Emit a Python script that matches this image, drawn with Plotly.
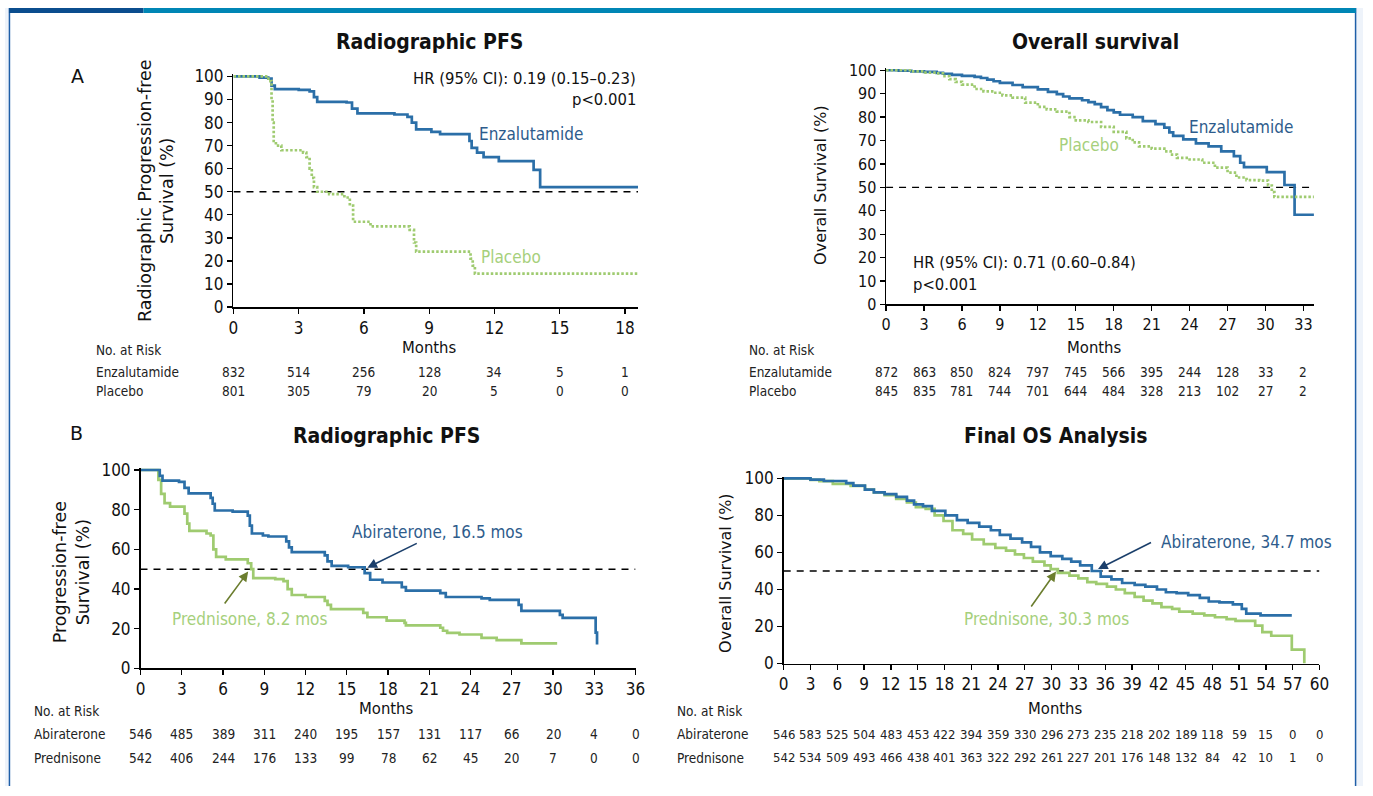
import plotly.graph_objects as go

W, H = 1373, 796

# ---------------- DATA ----------------
# Panel A1: Radiographic PFS (Enzalutamide vs Placebo)
a1_enz_t = [0, 1.2, 1.6, 1.75, 1.9, 3.0, 3.5, 3.7, 3.85, 5.2, 5.45, 5.7, 7.4, 8.0, 8.2, 8.4, 9.1, 9.5,
            10.85, 10.95, 11.2, 11.5, 12.2, 13.8, 14.1, 18.6]
a1_enz_s = [100, 99.5, 99, 96, 94.5, 94.2, 93.5, 91, 89, 88.7, 86, 84, 83.5, 82.5, 80, 77, 76, 75,
            72, 69, 67, 65, 63.3, 59.5, 52, 52]
a1_pla_t = [0, 1.5, 1.7, 1.75, 1.8, 1.85, 1.95, 2.2, 3.2, 3.35, 3.5, 3.6, 3.7, 3.85, 4.4, 5.1, 5.35, 5.5,
            6.3, 8.1, 8.3, 8.4, 10.9, 11.0, 11.1, 18.6]
a1_pla_s = [100, 99, 98, 90, 80, 72, 70, 68, 67, 65, 60, 56, 52, 50, 49, 47.5, 44, 37,
            35, 33.5, 28, 24, 21, 18, 14.5, 14.5]
a1_ticks = [0, 3, 6, 9, 12, 15, 18]
a1_risk_enz = [832, 514, 256, 128, 34, 5, 1]
a1_risk_pla = [801, 305, 79, 20, 5, 0, 0]

# Panel A2: Overall survival (Enzalutamide vs Placebo)
a2_enz_t = [0, 1, 2, 3, 4, 4.5, 5.2, 6, 7, 7.5, 8, 8.5, 9, 10, 10.8, 12, 12.8, 13.5, 14, 14.5, 15.5, 16,
            16.5, 17, 17.5, 18, 18.5, 19.5, 20.3, 21.3, 22, 22.4, 22.7, 23.5, 24.5, 25.5, 26.5, 27.5,
            28, 28.3, 30.1, 31.5, 32.3, 33.83]
a2_enz_s = [100, 99.8, 99.5, 99.3, 98.9, 98.5, 98, 97.6, 97.2, 96.7, 96, 95.3, 94.6, 93.7, 92.8, 91.8,
            90.8, 89.8, 88.8, 88, 87.2, 86.4, 85.5, 84.3, 83, 82, 81, 80, 78.3, 77, 75.5, 73.5, 72,
            70.5, 68.8, 67.5, 65.4, 63.3, 60.5, 58.6, 56.5, 51, 38.3, 38.3]
a2_pla_t = [0, 2, 3, 4, 4.5, 5, 5.5, 6, 7, 7.7, 8.5, 9.2, 10, 11, 12, 12.7, 13.5, 14.5, 15, 16, 17, 18,
            19, 19.5, 20, 21, 22, 22.5, 23, 24, 25, 26, 27, 27.7, 28.5, 29.5, 30.2, 30.5, 30.7, 33.83]
a2_pla_s = [100, 99.5, 99, 98.7, 97.5, 96.2, 95, 93.9, 92, 91, 90.4, 89.3, 88.3, 86.2, 84.4, 83.3, 82.3,
            80, 78.6, 77.9, 75.8, 73.7, 70.9, 69.2, 67.5, 66.5, 65.4, 64, 62.6, 61.9, 60.5, 58.4, 56.3,
            54.2, 53.1, 52.9, 50.8, 48, 45.9, 45.9]
a2_ticks = [0, 3, 6, 9, 12, 15, 18, 21, 24, 27, 30, 33]
a2_risk_enz = [872, 863, 850, 824, 797, 745, 566, 395, 244, 128, 33, 2]
a2_risk_pla = [845, 835, 781, 744, 701, 644, 484, 328, 213, 102, 27, 2]

# Panel B1: Radiographic PFS (Abiraterone vs Prednisone)
b1_abi_t = [0, 1.4, 1.6, 2.8, 3.2, 3.5, 5.1, 5.25, 5.4, 6.7, 7.8, 7.95, 8.1, 8.9, 9.3, 10.6, 10.8, 11.0,
            13.4, 13.6, 13.9, 15.1, 16.3, 16.7, 17.6, 19.0, 19.3, 21.8, 22.2, 24.8, 25.4, 27.5, 27.7,
            30.5, 30.7, 33.1, 33.2]
b1_abi_s = [100, 97, 94.7, 94, 91, 88.2, 86, 83, 79.6, 79, 77, 72, 68, 67, 66.5, 64, 61, 58.6,
            57, 54, 51.7, 51, 48, 44.7, 43.3, 41, 39.2, 38, 36, 35.3, 34.5, 32, 29,
            27, 25.5, 18, 12]
b1_pre_t = [0, 1.3, 1.5, 1.75, 2.15, 3.2, 3.4, 3.55, 4.8, 5.1, 5.3, 5.5, 6.2, 7.8, 8.05, 8.2, 9.8, 10.4,
            10.7, 11.0, 12.0, 13.4, 13.6, 13.85, 16.2, 16.5, 17.9, 19.2, 19.3, 21.8, 22.0, 22.3, 23.2,
            24.8, 25.9, 27.7, 30.3]
b1_pre_s = [100, 95, 88, 83.3, 81.5, 78, 73, 69.3, 68, 67, 60, 56.2, 55, 53, 50, 45.5, 45, 44,
            40, 37, 36, 34, 32, 29.9, 28, 25.8, 24.1, 23, 21.7, 20.5, 19, 17.9, 17.1,
            15.4, 14.3, 12.6, 12.6]
b1_ticks = [0, 3, 6, 9, 12, 15, 18, 21, 24, 27, 30, 33, 36]
b1_risk_abi = [546, 485, 389, 311, 240, 195, 157, 131, 117, 66, 20, 4, 0]
b1_risk_pre = [542, 406, 244, 176, 133, 99, 78, 62, 45, 20, 7, 0, 0]

# Panel B2: Final OS analysis (Abiraterone vs Prednisone)
b2_abi_t = [0, 3, 4.5, 7.0, 7.8, 9.1, 10.1, 11.3, 12.6, 13.8, 14.6, 15.6, 16.6, 18.1, 19.4, 20.6, 21.9,
            23.2, 24.2, 25.4, 26.7, 27.7, 28.7, 29.9, 31.2, 32.2, 33.2, 34.5, 35.5, 36.7, 37.9, 39.3,
            40.5, 41.8, 42.8, 44.0, 45.3, 46.6, 47.6, 48.8, 50.3, 51.3, 51.8, 53.4, 56.9]
b2_abi_s = [100, 99.3, 98.6, 97.5, 96.1, 94, 92.5, 91.5, 90, 88, 86, 85, 82.5, 80, 77.5, 76, 74,
            72, 69.5, 67.5, 65.5, 63, 60, 58, 56.5, 55, 53, 50, 47, 45.5, 43.5, 42.5,
            41.5, 40, 38.5, 38, 37, 35.5, 33.5, 33, 32, 29.5, 27, 26, 26]
b2_pre_t = [0, 3, 4.0, 5.5, 7.5, 9.1, 10.1, 11.3, 12.6, 13.8, 14.8, 15.9, 16.9, 17.9, 18.9, 20.1, 21.1,
            22.4, 23.7, 24.9, 25.9, 26.9, 27.9, 29.2, 29.9, 30.7, 32.0, 33.0, 34.0, 35.0, 36.2, 37.2,
            38.2, 39.3, 40.3, 41.3, 42.3, 43.5, 44.3, 45.8, 47.1, 48.3, 49.6, 50.6, 52.8, 53.6, 54.6,
            56.9, 58.3]
b2_pre_s = [100, 99.2, 98.5, 97, 96, 94, 92.5, 91, 89, 87, 84.5, 83.5, 80, 77, 72, 70, 67,
            64.5, 62.5, 61, 59, 57, 55, 53, 51, 49, 47.5, 46, 44, 43, 41.5, 40,
            38, 36, 34, 32.5, 30.5, 29.5, 28, 27, 26, 25, 24, 23, 20.5, 17, 15,
            7.5, 0]
b2_ticks = list(range(0, 61, 3))
b2_risk_abi = [546, 583, 525, 504, 483, 453, 422, 394, 359, 330, 296, 273, 235, 218, 202, 189, 118, 59, 15, 0, 0]
b2_risk_pre = [542, 534, 509, 493, 466, 438, 401, 363, 322, 292, 261, 227, 201, 176, 148, 132, 84, 42, 10, 1, 0]

# ---------------- STYLE ----------------
BLUE = "#2b6fa8"
GREEN = "#9fcb70"
BLUE_TXT = "#2e5c8c"
GREEN_TXT = "#a6d07c"
NAVY = "#1b3f6b"
OLIVE = "#6b7d2e"
COND = "'DejaVu Sans Condensed', 'Roboto', sans-serif"
WIDE = "'DejaVu Sans', 'Open Sans', sans-serif"
BOLD = "'DejaVu Sans Condensed', 'Roboto', sans-serif"


def px(x):
    return x / W


def py(y):
    return 1 - y / H


# panel geometry in pixels
panels = {
    "a1": dict(x0=231, x1=640, xmax=18.6, y0=306, y100=70, ax="x", ay="y"),
    "a2": dict(x0=890.8, x1=1323.4, xmax=33.83, y0=303.3, y100=63.7, ax="x2", ay="y2"),
    "b1": dict(x0=137, x1=637.5, xmax=36, y0=675.7, y100=472.7, ax="x3", ay="y3"),
    "b2": dict(x0=787.3, x1=1329, xmax=60, y0=670.7, y100=481.3, ax="x4", ay="y4"),
}
YTOP = 101.0

fig = go.Figure()
layout = dict(width=W, height=H, margin=dict(l=0, r=0, t=0, b=0), plot_bgcolor="white",
              paper_bgcolor="white", showlegend=False)

ytick_sets = {"a1": list(range(0, 101, 10)), "a2": list(range(0, 101, 10)),
              "b1": list(range(0, 101, 20)), "b2": list(range(0, 101, 20))}
xtick_sets = {"a1": a1_ticks, "a2": a2_ticks, "b1": b1_ticks, "b2": b2_ticks}
tick_font_size = {"a1": 17, "a2": 16, "b1": 17, "b2": 17}

for key, p in panels.items():
    ppp = (p["y0"] - p["y100"]) / 100.0
    ytop_px = p["y0"] - YTOP * ppp
    xname = "xaxis" + p["ax"][1:]
    yname = "yaxis" + p["ay"][1:]
    layout[xname] = dict(domain=[px(p["x0"]), px(p["x1"])], range=[0, p["xmax"]],
                         anchor=p["ay"], tickvals=xtick_sets[key], ticks="outside", ticklen=5,
                         tickwidth=1.3, tickcolor="black", showline=True, linecolor="black",
                         linewidth=1.5, showgrid=False, zeroline=False,
                         tickfont=dict(family=COND, size=tick_font_size[key], color="#111"))
    layout[yname] = dict(domain=[py(p["y0"]), py(ytop_px)], range=[0, YTOP],
                         anchor=p["ax"], tickvals=ytick_sets[key], ticks="outside", ticklen=5,
                         tickwidth=1.3, tickcolor="black", showline=True, linecolor="black",
                         linewidth=1.5, showgrid=False, zeroline=False,
                         tickfont=dict(family=COND, size=tick_font_size[key], color="#111"))

curves = [
    ("a1", a1_enz_t, a1_enz_s, BLUE, "solid"),
    ("a1", a1_pla_t, a1_pla_s, GREEN, "2.5px,2px"),
    ("a2", a2_enz_t, a2_enz_s, BLUE, "solid"),
    ("a2", a2_pla_t, a2_pla_s, GREEN, "2.5px,2px"),
    ("b1", b1_pre_t, b1_pre_s, GREEN, "solid"),
    ("b1", b1_abi_t, b1_abi_s, BLUE, "solid"),
    ("b2", b2_pre_t, b2_pre_s, GREEN, "solid"),
    ("b2", b2_abi_t, b2_abi_s, BLUE, "solid"),
]

# median reference lines (50%)
for key, p in panels.items():
    fig.add_trace(go.Scatter(x=[0, p["xmax"]], y=[50, 50], mode="lines", xaxis=p["ax"], yaxis=p["ay"],
                             line=dict(color="black", width=1.4, dash="7px,6px"), hoverinfo="skip"))

for key, t, s, col, dash in curves:
    p = panels[key]
    fig.add_trace(go.Scatter(x=t, y=s, mode="lines", line_shape="hv", xaxis=p["ax"], yaxis=p["ay"],
                             line=dict(color=col, width=2.7, dash=dash)))

ann = []


def add_text(text, x, y, xref, yref, size, color="#111", family=COND, xanchor="center",
             yanchor="middle", angle=0):
    ann.append(dict(text=text, x=x, y=y, xref=xref, yref=yref, showarrow=False,
                    font=dict(family=family, size=size, color=color), xanchor=xanchor,
                    yanchor=yanchor, textangle=angle))


# titles
add_text("<b>Radiographic PFS</b>", px(429), py(35), "paper", "paper", 21, "#111", BOLD)
add_text("<b>Overall survival</b>", px(1103), py(35), "paper", "paper", 21, "#111", BOLD)
add_text("<b>Radiographic PFS</b>", px(386), py(438), "paper", "paper", 21, "#111", BOLD)
add_text("<b>Final OS Analysis</b>", px(1062), py(438), "paper", "paper", 21, "#111", BOLD)
add_text("A", px(73), py(70), "paper", "paper", 19, "#111", WIDE)
add_text("B", px(72), py(435), "paper", "paper", 19, "#111", WIDE)

# axis titles
add_text("Radiographic Progression-free<br>Survival (%)", px(153), py(187), "paper", "paper", 17.5,
         "#111", WIDE, angle=-90)
add_text("Overall Survival (%)", px(825), py(181), "paper", "paper", 16, "#111", WIDE, angle=-90)
add_text("Progression-free<br>Survival (%)", px(68), py(577), "paper", "paper", 17.5, "#111", WIDE,
         angle=-90)
add_text("Overall Survival (%)", px(729), py(578), "paper", "paper", 16, "#111", WIDE, angle=-90)
add_text("Months", px(429), py(347), "paper", "paper", 16.5)
add_text("Months", px(1102), py(347), "paper", "paper", 16.5)
add_text("Months", px(386), py(717), "paper", "paper", 16.5)
add_text("Months", px(1062), py(717), "paper", "paper", 16.5)

# HR / p texts
add_text("HR (95% CI): 0.19 (0.15–0.23)", 18.6, 99.2, "x", "y", 16.5, xanchor="right")
add_text("p<0.001", 18.6, 89.8, "x", "y", 16.5, xanchor="right")
add_text("HR (95% CI): 0.71 (0.60–0.84)", 2.0, 17.7, "x2", "y2", 16.5, xanchor="left")
add_text("p<0.001", 2.0, 8.5, "x2", "y2", 16.5, xanchor="left")
add_text("HR (95% CI): 0.52 (0.45-0.61)", 36.4, 90.5, "x3", "y3", 16.5, xanchor="right")
add_text("p<0.0001", 36.4, 80.2, "x3", "y3", 16.5, xanchor="right")
add_text("HR (95% CI): 0.81 (0.70-0.93)", 60.3, 99.1, "x4", "y4", 16.5, xanchor="right")
add_text("p=0.0033", 60.3, 87.5, "x4", "y4", 16.5, xanchor="right")

# series labels
add_text("Enzalutamide", 11.2, 75, "x", "y", 17, BLUE_TXT, xanchor="left")
add_text("Placebo", 11.3, 21.6, "x", "y", 17, GREEN_TXT, xanchor="left")
add_text("Enzalutamide", 23.8, 75.7, "x2", "y2", 17, BLUE_TXT, xanchor="left")
add_text("Placebo", 13.5, 68.2, "x2", "y2", 17, GREEN_TXT, xanchor="left")
add_text("Abiraterone, 16.5 mos", 15.2, 68.8, "x3", "y3", 17, BLUE_TXT, xanchor="left")
add_text("Prednisone, 8.2 mos", 2.16, 25, "x3", "y3", 17, GREEN_TXT, xanchor="left")
add_text("Abiraterone, 34.7 mos", 42.05, 65.8, "x4", "y4", 17, BLUE_TXT, xanchor="left")
add_text("Prednisone, 30.3 mos", 20.0, 24.1, "x4", "y4", 17, GREEN_TXT, xanchor="left")

# arrows (head, tail in data coords)
arrows = [
    ("x3", "y3", 16.5, 50.8, 20.2, 63.4, NAVY),
    ("x3", "y3", 7.83, 48.8, 6.04, 32.0, OLIVE),
    ("x4", "y4", 35.2, 51.0, 41.3, 65.8, NAVY),
    ("x4", "y4", 30.5, 49.7, 27.6, 30.0, OLIVE),
]
for xr, yr, hx, hy, tx, ty, col in arrows:
    ann.append(dict(x=hx, y=hy, ax=tx, ay=ty, xref=xr, yref=yr, axref=xr, ayref=yr, text="",
                    showarrow=True, arrowhead=2, arrowsize=1.2, arrowwidth=1.6, arrowcolor=col))

# risk tables
RF = 13.5
tables = [
    ("x", a1_ticks, ["Enzalutamide", "Placebo"], [a1_risk_enz, a1_risk_pla], 90, 350, [372, 392]),
    ("x2", a2_ticks, ["Enzalutamide", "Placebo"], [a2_risk_enz, a2_risk_pla], 750, 350, [372, 392]),
    ("x3", b1_ticks, ["Abiraterone", "Prednisone"], [b1_risk_abi, b1_risk_pre], 27, 719, [743, 767]),
    ("x4", b2_ticks, ["Abiraterone", "Prednisone"], [b2_risk_abi, b2_risk_pre], 677, 719, [743, 767]),
]
for xr, ticks, names, rows, lx, hy, rys in tables:
    add_text("No. at Risk", px(lx), py(hy), "paper", "paper", RF, "#222", xanchor="left")
    for name, vals, ry in zip(names, rows, rys):
        add_text(name, px(lx), py(ry), "paper", "paper", RF, "#222", xanchor="left")
        for t, v in zip(ticks, vals):
            add_text(str(v), t, py(ry), xr, "paper", RF if xr != "x4" else 13, "#222")

layout["annotations"] = ann

# frame decorations
shapes = [
    dict(type="rect", xref="paper", yref="paper", x0=0, x1=px(4), y0=0, y1=1, fillcolor="#eef3fa",
         line_width=0, layer="below"),
    dict(type="rect", xref="paper", yref="paper", x0=px(1366), x1=1, y0=0, y1=1, fillcolor="#eef3fa",
         line_width=0, layer="below"),
    dict(type="line", xref="paper", yref="paper", x0=px(4.5), x1=px(4.5), y0=0, y1=1,
         line=dict(color="#1f5fa8", width=1.5)),
    dict(type="line", xref="paper", yref="paper", x0=px(1365.5), x1=px(1365.5), y0=0, y1=1,
         line=dict(color="#1f5fa8", width=1.5)),
    dict(type="rect", xref="paper", yref="paper", x0=px(4), x1=px(140), y0=py(5), y1=1,
         fillcolor="#0b4d8e", line_width=0),
    dict(type="rect", xref="paper", yref="paper", x0=px(140), x1=px(1366), y0=py(5), y1=1,
         fillcolor="#0086b5", line_width=0),
]
layout["shapes"] = shapes

fig.update_layout(**layout)
post = ("document.documentElement.style.margin='0';document.body.style.margin='0';"
        "document.body.style.padding='0';document.documentElement.style.overflow='hidden';"
        "document.body.style.overflow='hidden';"
        "var d=document.getElementById('{plot_id}');d.style.position='fixed';"
        "d.style.left='0px';d.style.top='0px';")
fig.write_html("out.html", config={"staticPlot": True, "displayModeBar": False}, post_script=post)
